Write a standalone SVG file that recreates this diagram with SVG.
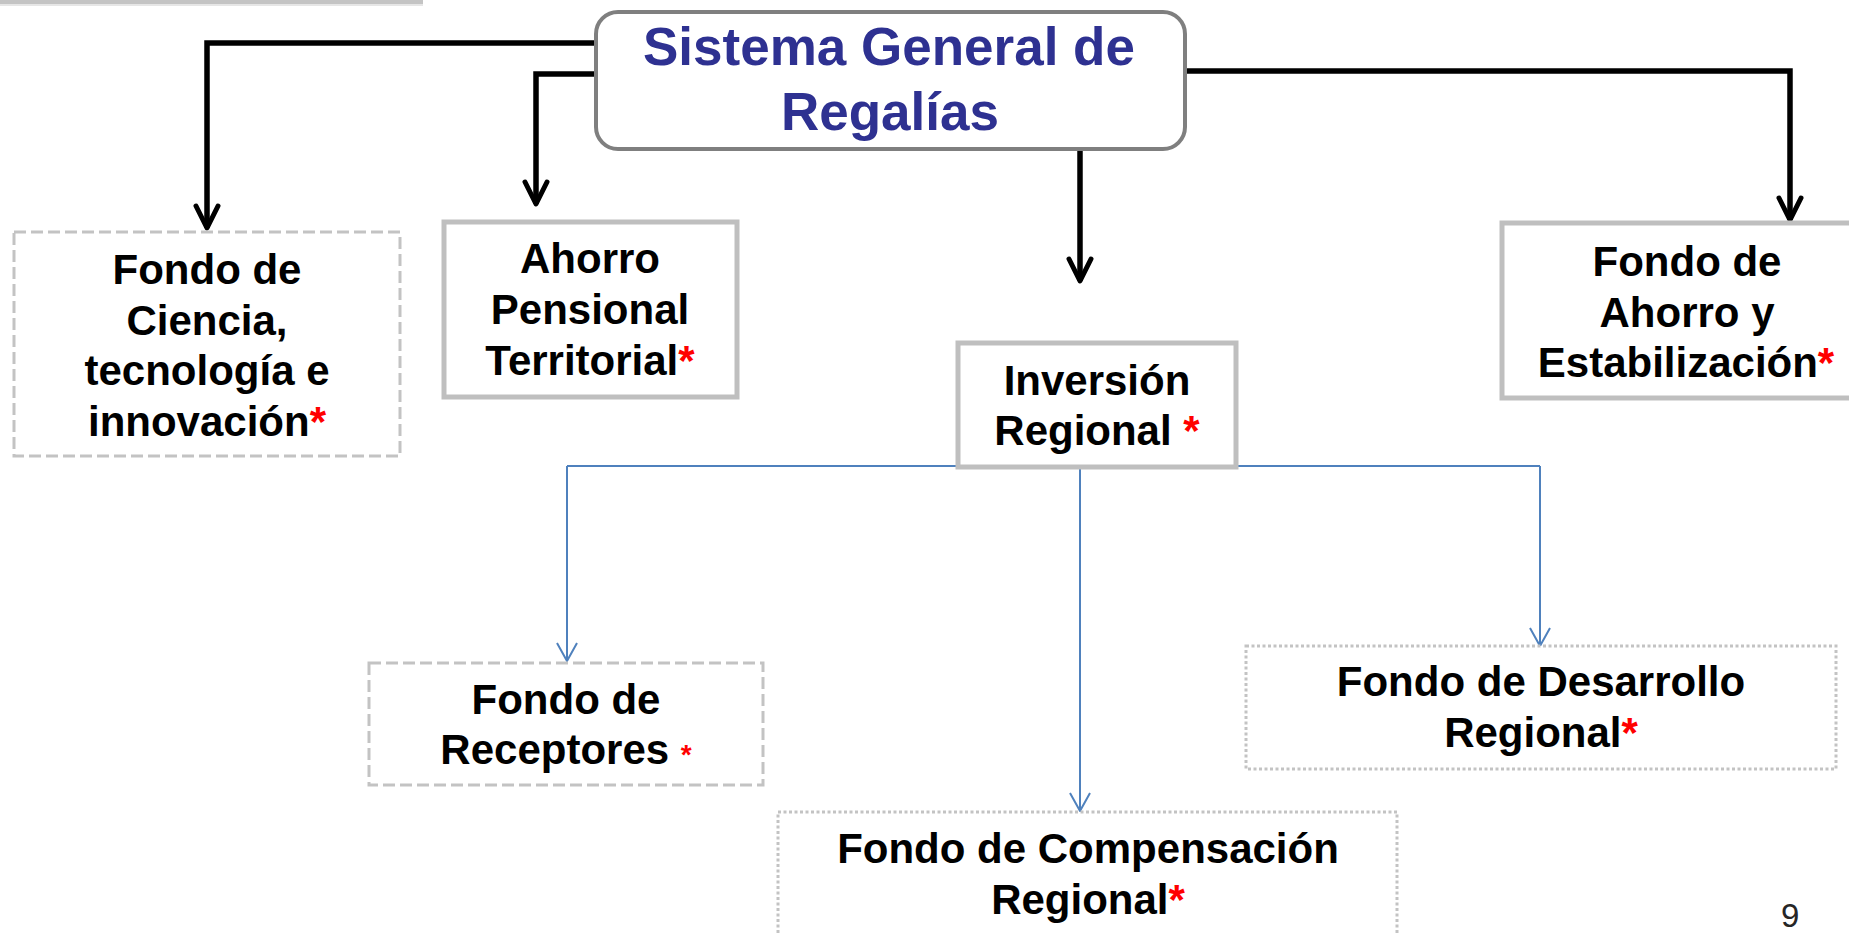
<svg xmlns="http://www.w3.org/2000/svg" width="1849" height="933" viewBox="0 0 1849 933">
<style>
.t{font-family:"Liberation Sans",Arial,sans-serif;font-weight:bold;font-size:42px;fill:#000;text-anchor:middle}
.ttl{font-family:"Liberation Sans",Arial,sans-serif;font-weight:bold;font-size:53px;fill:#2e3191;text-anchor:middle}
.r{fill:#ff0000}
.solid{fill:#fff;stroke:#bfbfbf;stroke-width:5}
.dash{fill:#fff;stroke:#c3c3c3;stroke-width:3;stroke-dasharray:12 5}
.dot{fill:#fff;stroke:#c3c3c3;stroke-width:3;stroke-dasharray:3 2.5}
.blk{fill:none;stroke:#000;stroke-width:5.5;marker-end:url(#ab)}
.blu{fill:none;stroke:#4f81bd;stroke-width:2}
.blua{fill:none;stroke:#4f81bd;stroke-width:2;marker-end:url(#ab2)}
</style>
<defs>
<marker id="ab" markerUnits="userSpaceOnUse" viewBox="-30 -16 34 32" markerWidth="34" markerHeight="32" refX="0" refY="0" orient="auto" overflow="visible">
<path d="M-22,-11 L0,0 L-22,11" fill="none" stroke="#000" stroke-width="5" stroke-linejoin="round" stroke-linecap="round"/>
</marker>
<marker id="ab2" markerUnits="userSpaceOnUse" viewBox="-20 -12 24 24" markerWidth="24" markerHeight="24" refX="0" refY="0" orient="auto" overflow="visible">
<path d="M-18,-10 L0,0 L-18,10" fill="none" stroke="#4f81bd" stroke-width="2" stroke-linejoin="round"/>
</marker>
</defs>
<rect width="1849" height="933" fill="#fff"/>
<rect x="0" y="0" width="423" height="4" fill="#c4c4c4"/>
<rect x="0" y="4" width="423" height="2" fill="#e6e6e6"/>

<g id="connectors">
<path class="blk" d="M606,43 H207 V228"/>
<path class="blk" d="M596,74 H536 V204"/>
<path class="blk" d="M1080,150 V281"/>
<path class="blk" d="M1185,71 H1790 V220"/>
<path class="blu" d="M567,466 H1540"/>
<path class="blua" d="M567,466 V661"/>
<path class="blua" d="M1080,466 V811"/>
<path class="blua" d="M1540,466 V646"/>
</g>

<g id="sgr">
<rect x="596" y="12" width="589" height="137" rx="22" fill="#fff" stroke="#7f7f7f" stroke-width="4"/>
<text class="ttl" x="889" y="65">Sistema General de</text>
<text class="ttl" x="890" y="130">Regalías</text>
</g>

<g id="ciencia">
<rect class="dash" x="14" y="232" width="386" height="224"/>
<text class="t" x="207" y="284">Fondo de</text>
<text class="t" x="207" y="335">Ciencia,</text>
<text class="t" x="207" y="385">tecnología e</text>
<text class="t" x="207" y="436">innovación<tspan class="r">*</tspan></text>
</g>

<g id="ahorro-pensional">
<rect class="solid" x="444" y="222" width="293" height="175"/>
<text class="t" x="590" y="273">Ahorro</text>
<text class="t" x="590" y="324">Pensional</text>
<text class="t" x="590" y="375">Territorial<tspan class="r">*</tspan></text>
</g>

<g id="inversion">
<rect class="solid" x="958" y="343" width="278" height="124"/>
<text class="t" x="1097" y="395">Inversión</text>
<text class="t" x="1097" y="445">Regional <tspan class="r">*</tspan></text>
</g>

<g id="fae">
<rect class="solid" x="1502" y="223" width="380" height="175"/>
<text class="t" x="1687" y="276">Fondo de</text>
<text class="t" x="1687" y="327">Ahorro y</text>
<text class="t" x="1686" y="377">Estabilización<tspan class="r">*</tspan></text>
</g>

<g id="receptores">
<rect class="dash" x="369" y="663" width="394" height="122"/>
<text class="t" x="566" y="714">Fondo de</text>
<text class="t" x="566" y="764">Receptores <tspan class="r" font-size="28">*</tspan></text>
</g>

<g id="desarrollo">
<rect class="dot" x="1246" y="646" width="590" height="123"/>
<text class="t" x="1541" y="696">Fondo de Desarrollo</text>
<text class="t" x="1541" y="747">Regional<tspan class="r">*</tspan></text>
</g>

<g id="compensacion">
<rect class="dot" x="778" y="812" width="619" height="140"/>
<text class="t" x="1088" y="863">Fondo de Compensación</text>
<text class="t" x="1088" y="914">Regional<tspan class="r">*</tspan></text>
</g>

<text x="1781" y="927" font-family="Liberation Sans,Arial,sans-serif" font-size="33" fill="#262626">9</text>
</svg>
